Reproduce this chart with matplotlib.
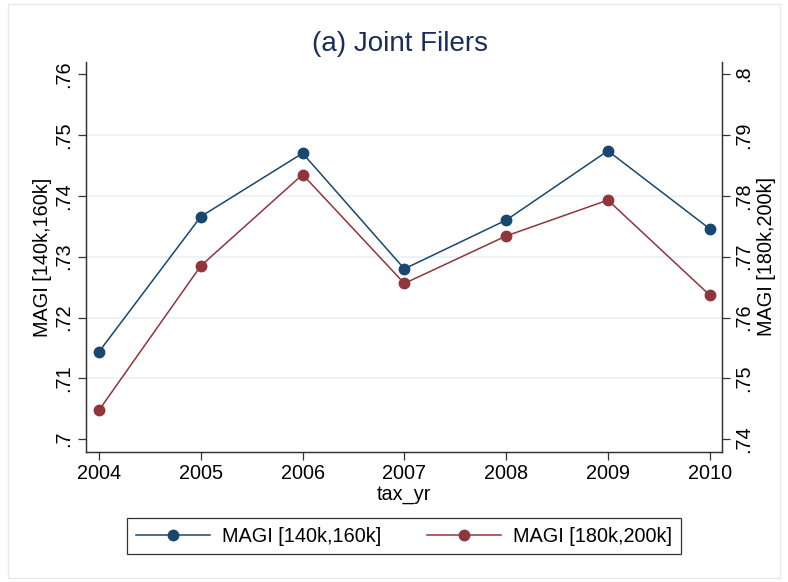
import matplotlib
matplotlib.use("Agg")
import matplotlib.pyplot as plt
from matplotlib.patches import Rectangle

plt.rcParams["font.family"] = ["Liberation Sans", "DejaVu Sans"]

# ==========================================================
# DATA
# ==========================================================

years = [2004, 2005, 2006, 2007, 2008, 2009, 2010]

magi_140_160 = [0.7144, 0.7366, 0.7470, 0.7280, 0.7360, 0.7474, 0.7346]
magi_180_200 = [0.7448, 0.7685, 0.7835, 0.7656, 0.7734, 0.7793, 0.7637]

left_ticks = [0.70, 0.71, 0.72, 0.73, 0.74, 0.75, 0.76]
left_labels = [".7", ".71", ".72", ".73", ".74", ".75", ".76"]
right_ticks = [0.74, 0.75, 0.76, 0.77, 0.78, 0.79, 0.80]
right_labels = [".74", ".75", ".76", ".77", ".78", ".79", ".8"]

navy = "#1a476f"
maroon = "#90353b"
fs = 14.3

# ==========================================================
# FIGURE
# ==========================================================

fig = plt.figure(figsize=(7.88, 5.82), dpi=100)

fig.patches.append(
    Rectangle(
        (8 / 788, 4 / 582), 772 / 788, 574 / 582,
        transform=fig.transFigure,
        fill=False,
        edgecolor="#e8e8e8",
        linewidth=1.0
    )
)

ax = fig.add_axes([0.109, 0.2234, 0.807, 0.6701])
ax2 = ax.twinx()

ax.plot(
    years, magi_140_160,
    color=navy, linewidth=1.1,
    marker="o", markersize=7.5,
    label="MAGI [140k,160k]"
)

ax2.plot(
    years, magi_180_200,
    color=maroon, linewidth=1.1,
    marker="o", markersize=7.5,
    label="MAGI [180k,200k]"
)

ax.set_xlim(2003.87, 2010.12)
ax.set_ylim(0.6979, 0.7620)
ax2.set_ylim(0.7379, 0.8020)

ax.set_xticks(years)
ax.set_xticklabels([str(y) for y in years], fontsize=fs)

ax.set_yticks(left_ticks)
ax.set_yticklabels(left_labels, fontsize=fs, rotation=90, va="center")
ax2.set_yticks(right_ticks)
ax2.set_yticklabels(right_labels, fontsize=fs, rotation=90, va="center")

# gridlines only at the inner ticks
for v in left_ticks[1:-1]:
    ax.axhline(v, color="#eaf0f2", linewidth=1.2, zorder=0)

for a in (ax, ax2):
    a.spines["top"].set_visible(False)
    for s in ("left", "right", "bottom"):
        a.spines[s].set_color("#333333")
        a.spines[s].set_linewidth(0.9)
    a.tick_params(direction="out", length=6, width=0.9, color="#333333", pad=3)

ax.set_xlabel("tax_yr", fontsize=fs, labelpad=1)
ax.set_ylabel("MAGI [140k,160k]", fontsize=fs, labelpad=2)
ax2.set_ylabel("MAGI [180k,200k]", fontsize=fs, labelpad=3, rotation=90)

fig.text(
    0.508, 0.925, "(a) Joint Filers",
    ha="center", va="center",
    fontsize=20, color="#1c2d5c"
)

h1, l1 = ax.get_legend_handles_labels()
h2, l2 = ax2.get_legend_handles_labels()

leg = fig.legend(
    h1 + h2, l1 + l2,
    loc="center",
    bbox_to_anchor=(0.5127, 0.079),
    ncol=2,
    fontsize=fs,
    frameon=True,
    fancybox=False,
    edgecolor="black",
    handlelength=3.75,
    columnspacing=2.3,
    borderpad=0.45,
    handletextpad=0.6
)
leg.get_frame().set_linewidth(0.9)

plt.savefig("out.png", dpi=100)
